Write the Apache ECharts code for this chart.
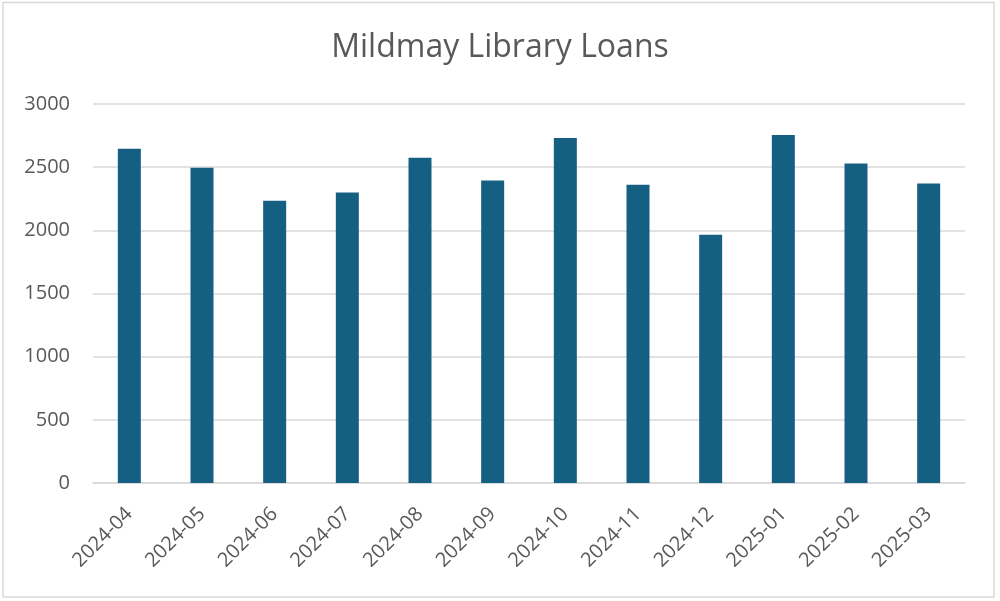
<!DOCTYPE html>
<html>
<head>
<meta charset="utf-8">
<script src="https://cdn.jsdelivr.net/npm/echarts@6/dist/echarts.min.js"></script>
<style>
html,body{margin:0;padding:0;background:#fff;}
#c{width:1000px;height:601px;}
</style>
</head>
<body>
<div id="c"></div>
<script>
const titleText = 'Mildmay Library Loans';
const categories = ['2024-04','2024-05','2024-06','2024-07','2024-08','2024-09','2024-10','2024-11','2024-12','2025-01','2025-02','2025-03'];
const loans = [2645, 2495, 2235, 2300, 2575, 2395, 2730, 2360, 1965, 2755, 2530, 2370];
const yTicks = [0, 500, 1000, 1500, 2000, 2500, 3000];

const chart = echarts.init(document.getElementById('c'));
chart.setOption({
  backgroundColor: '#ffffff',
  animation: false,
  graphic: [{
    type: 'rect',
    shape: { x: 3, y: 2.5, width: 991, height: 594.5 },
    style: { fill: 'none', stroke: '#d9d9d9', lineWidth: 1.5 },
    silent: true
  }],
  title: {
    text: titleText,
    left: 'center',
    top: 27,
    textStyle: { fontFamily: 'Open Sans', fontSize: 32, fontWeight: 'normal', color: '#595959' }
  },
  grid: { left: 93, right: 35, top: 104, bottom: 118, containLabel: false },
  xAxis: {
    type: 'category',
    data: categories,
    axisLine: { show: true, lineStyle: { color: '#d9d9d9', width: 1.5 } },
    axisTick: { show: false },
    axisLabel: { rotate: 45, fontFamily: 'Open Sans', fontSize: 20, color: '#595959', margin: 28, interval: 0 }
  },
  yAxis: {
    type: 'value',
    min: yTicks[0],
    max: yTicks[yTicks.length - 1],
    interval: 500,
    axisLine: { show: false },
    axisTick: { show: false },
    splitLine: { lineStyle: { color: '#d9d9d9', width: 1.5 } },
    axisLabel: { fontFamily: 'Open Sans', fontSize: 20, color: '#595959', margin: 23, formatter: v => String(v) }
  },
  series: [{
    type: 'bar',
    data: loans,
    barWidth: 23,
    itemStyle: { color: '#156082' }
  }]
});
</script>
</body>
</html>
